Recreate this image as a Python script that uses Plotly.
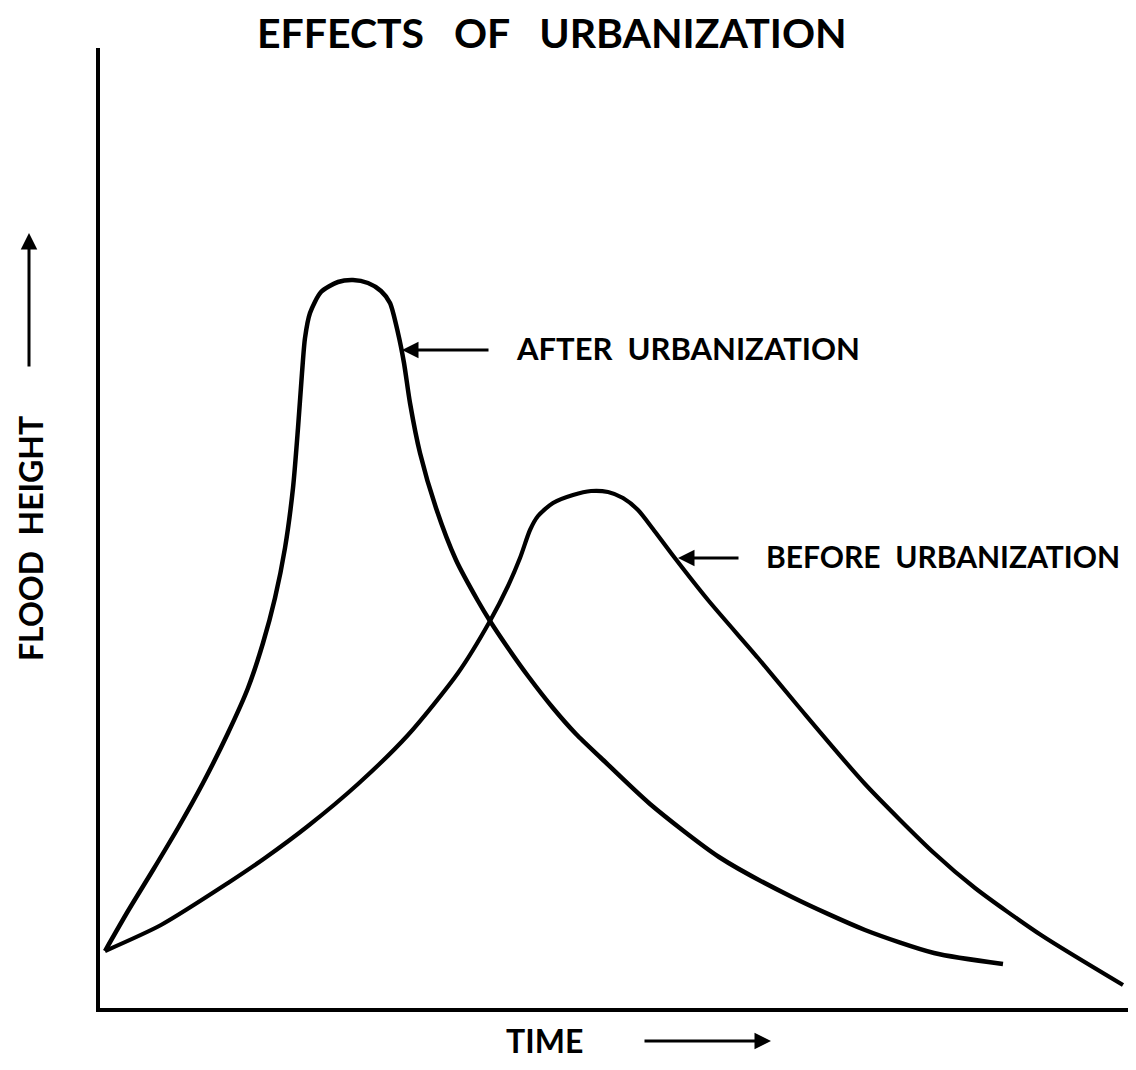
import plotly.graph_objects as go

# Curves (time units, flood-height units)
after_t = [5, 28, 53, 78, 103, 128, 148, 163, 175, 185, 193, 198, 202, 205, 210, 221,
           238, 253, 268, 281, 290, 298, 304, 310, 320, 336, 356, 378, 390, 408, 428,
           453, 476, 501, 550, 619, 692, 765, 834, 903]
after_h = [57, 97, 138, 180, 225, 275, 320, 365, 410, 460, 520, 580, 635, 670, 695, 716,
           726, 728, 725, 717, 705, 675, 645, 605, 555, 500, 448, 407, 387, 360, 332,
           300, 274, 250, 204, 151, 111, 78, 55, 44]

before_t = [5, 61, 128, 165, 208, 258, 308, 358, 390, 408, 420, 430, 438, 453, 473,
            491, 508, 523, 538, 553, 571, 608, 658, 698, 765, 834, 875, 941, 1023]
before_h = [57, 83, 125, 150, 182, 224, 273, 335, 387, 422, 450, 478, 492, 505, 513,
            517, 516, 510, 498, 479, 455, 408, 350, 302, 224, 155, 120, 73, 23]

NB = "\u00a0"
title_text = "EFFECTS" + NB * 3 + "OF" + NB * 3 + "URBANIZATION"
label_after = "AFTER" + NB * 2 + "URBANIZATION"
label_before = "BEFORE" + NB * 2 + "URBANIZATION"
x_label = "TIME"
y_label = "FLOOD" + NB * 2 + "HEIGHT"

W, H = 1136, 1070
L, R, T, B = 92, 0, 40, 70
PW, PH = W - L - R, H - T - B

def px(x):
    return (x - L) / PW

def py(y):
    return (H - B - y) / PH

FONT = "Lato"

fig = go.Figure()
for t, h, w in [(after_t, after_h, 4.5), (before_t, before_h, 4.2)]:
    fig.add_trace(go.Scatter(x=t, y=h, mode="lines",
                             line=dict(color="black", width=w, shape="spline", smoothing=0.7),
                             hoverinfo="skip", showlegend=False))

anns = []
# arrows pointing to the curves
anns.append(dict(x=px(394), y=py(342), xref="paper", yref="paper", ax=88, ay=0,
                 text="", showarrow=True, arrowhead=2, arrowsize=1.1, arrowwidth=3,
                 arrowcolor="black"))
anns.append(dict(x=px(506), y=py(340), xref="paper", yref="paper", xanchor="left",
                 yanchor="middle", text=label_after, showarrow=False,
                 font=dict(family=FONT, size=31, color="black", weight="bold")))
anns.append(dict(x=px(670), y=py(550), xref="paper", yref="paper", ax=62, ay=0,
                 text="", showarrow=True, arrowhead=2, arrowsize=1.1, arrowwidth=3,
                 arrowcolor="black"))
anns.append(dict(x=px(756), y=py(548), xref="paper", yref="paper", xanchor="left",
                 yanchor="middle", text=label_before, showarrow=False,
                 font=dict(family=FONT, size=30, color="black", weight="bold")))
# title
anns.append(dict(x=px(544), y=py(24), xref="paper", yref="paper", xanchor="center",
                 yanchor="middle", text=title_text, showarrow=False,
                 font=dict(family=FONT, size=41, color="black", weight="bold")))
# x label and arrow
anns.append(dict(x=px(536), y=py(1032), xref="paper", yref="paper", xanchor="center",
                 yanchor="middle", text=x_label, showarrow=False,
                 font=dict(family=FONT, size=32, color="black", weight="bold")))
anns.append(dict(x=px(763), y=py(1033), xref="paper", yref="paper", ax=-128, ay=0,
                 text="", showarrow=True, arrowhead=2, arrowsize=1.1, arrowwidth=3,
                 arrowcolor="black"))
# y label and arrow
anns.append(dict(x=px(22), y=py(531), xref="paper", yref="paper", xanchor="center",
                 yanchor="middle", text=y_label, showarrow=False, textangle=-90,
                 font=dict(family=FONT, size=32, color="black", weight="bold")))
anns.append(dict(x=px(21), y=py(225), xref="paper", yref="paper", ax=0, ay=135,
                 text="", showarrow=True, arrowhead=2, arrowsize=1.1, arrowwidth=3,
                 arrowcolor="black"))

fig.update_layout(
    width=W, height=H,
    margin=dict(l=L, r=R, t=T, b=B),
    paper_bgcolor="white", plot_bgcolor="white",
    annotations=anns,
    xaxis=dict(range=[0, PW], showgrid=False, zeroline=False, showticklabels=False,
               ticks="", showline=True, linecolor="black", linewidth=4, fixedrange=True),
    yaxis=dict(range=[0, PH], showgrid=False, zeroline=False, showticklabels=False,
               ticks="", showline=True, linecolor="black", linewidth=4, fixedrange=True),
)

fig.write_html("out.html")
